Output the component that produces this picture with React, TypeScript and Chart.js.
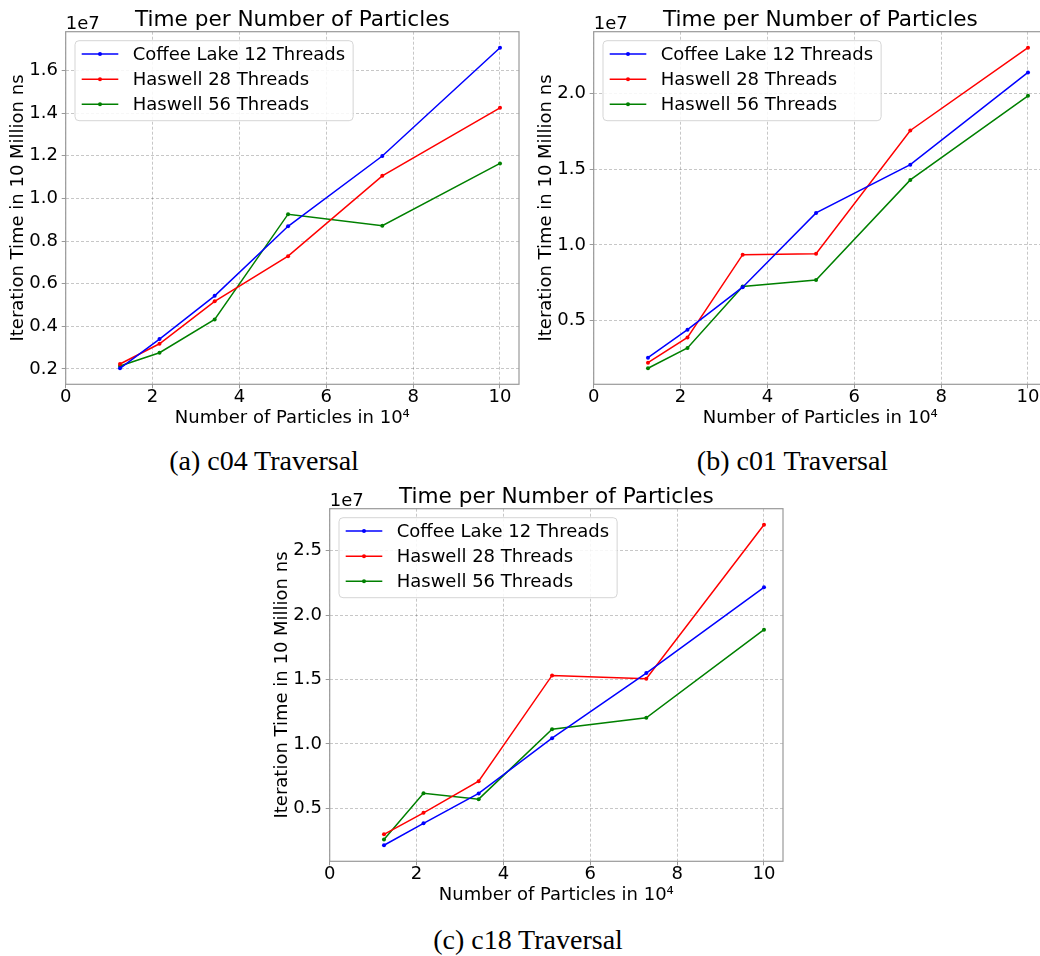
import React, { useEffect, useRef } from "react";
import { Chart, registerables } from "chart.js";

Chart.register(...registerables);

// ---------- data ----------
const PARTICLES = [1.25, 2.16, 3.43, 5.12, 7.29, 10.0]; // in 10^4
const SERIES_NAMES = ["Coffee Lake 12 Threads", "Haswell 28 Threads", "Haswell 56 Threads"];
const SERIES_COLORS = ["#0000ff", "#ff0000", "#008000"];

// iteration time in ns
const C04_COFFEE = [2030000, 3400000, 5430000, 8690000, 11990000, 17070000];
const C04_H28 = [2230000, 3180000, 5170000, 7290000, 11060000, 14250000];
const C04_H56 = [2140000, 2760000, 4320000, 9260000, 8720000, 11640000];

const C01_COFFEE = [2540000, 4390000, 7200000, 12110000, 15300000, 21400000];
const C01_H28 = [2210000, 3880000, 9350000, 9410000, 17560000, 23030000];
const C01_H56 = [1840000, 3180000, 7240000, 7680000, 14290000, 19850000];

const C18_COFFEE = [2140000, 3840000, 6160000, 10450000, 15500000, 22150000];
const C18_H28 = [2990000, 4660000, 7110000, 15320000, 15060000, 27010000];
const C18_H56 = [2580000, 6180000, 5720000, 11150000, 12030000, 18870000];

const Y_SCALE = 1e7; // axis unit ("1e7")
const X_TICK_STEP = 2;
const Y_TICK_STEP_A = 0.2; // in 1e7 ns
const Y_TICK_STEP_BC = 0.5; // in 1e7 ns

const TITLE = "Time per Number of Particles";
const X_LABEL = "Number of Particles in 10\u2074";
const Y_LABEL = "Iteration Time in 10 Million ns";
const OFFSET_LABEL = "1e7";
const CAPTIONS = ["(a) c04 Traversal", "(b) c01 Traversal", "(c) c18 Traversal"];

// ---------- layout ----------
const CANVAS_W = 540;
const CANVAS_H = 430;
const AREA_LEFT = 65.7;
const AREA_RIGHT = 519;
const AREA_TOP = 31.7;
const AREA_BOTTOM = 384.3;
const FONT = '"DejaVu Sans"';

function range(values: number[][]) {
  const all = values.flat();
  const mn = Math.min(...all);
  const mx = Math.max(...all);
  const m = (mx - mn) * 0.05;
  return { min: mn - m, max: mx + m };
}

const decorPlugin = {
  id: "decor",
  afterDraw(chart: any) {
    const ctx: CanvasRenderingContext2D = chart.ctx;
    const { left, top, right, bottom } = chart.chartArea;
    ctx.save();
    // frame
    ctx.strokeStyle = "#999999";
    ctx.lineWidth = 1.2;
    ctx.setLineDash([]);
    ctx.strokeRect(left, top, right - left, bottom - top);

    // legend
    ctx.font = `18px ${FONT}`;
    const textX = left + 67;
    const maxW = Math.max(...SERIES_NAMES.map((n) => ctx.measureText(n).width));
    const bx = left + 9.3;
    const by = top + 9;
    const bw = textX + maxW + 8 - bx;
    const bh = 80;
    ctx.beginPath();
    (ctx as any).roundRect(bx, by, bw, bh, 4);
    ctx.fillStyle = "rgba(255,255,255,0.85)";
    ctx.fill();
    ctx.strokeStyle = "#d5d5d5";
    ctx.lineWidth = 1;
    ctx.stroke();
    const rows = [22.3, 47.6, 72.6];
    chart.data.datasets.forEach((ds: any, i: number) => {
      const y = top + rows[i];
      ctx.strokeStyle = ds.borderColor;
      ctx.lineWidth = 1.5;
      ctx.beginPath();
      ctx.moveTo(left + 16, y);
      ctx.lineTo(left + 52.6, y);
      ctx.stroke();
      ctx.fillStyle = ds.borderColor;
      ctx.beginPath();
      ctx.arc(left + 34.3, y, 2, 0, Math.PI * 2);
      ctx.fill();
      ctx.fillStyle = "#000";
      ctx.textAlign = "left";
      ctx.textBaseline = "middle";
      ctx.fillText(ds.label, textX, y + 1);
    });

    // title
    ctx.fillStyle = "#000";
    ctx.font = `21.6px ${FONT}`;
    ctx.textAlign = "center";
    ctx.textBaseline = "alphabetic";
    ctx.fillText(TITLE, (left + right) / 2, top - 6);

    // offset text
    ctx.font = `18px ${FONT}`;
    ctx.textAlign = "left";
    ctx.fillText(OFFSET_LABEL, left, top - 3.2);
    ctx.restore();
  },
};

function SubChart(props: { series: number[][]; yStep: number; left: number; top: number }) {
  const ref = useRef<HTMLCanvasElement | null>(null);
  useEffect(() => {
    if (!ref.current) return;
    const scaled = props.series.map((vals) => vals.map((v) => v / Y_SCALE));
    const yr = range(scaled);
    const xmin = Math.min(...PARTICLES);
    const xmax = Math.max(...PARTICLES);
    const gridOpts = {
      color: "rgba(0,0,0,0.22)",
      lineWidth: 1,
      drawTicks: true,
      tickLength: 4,
      tickColor: "#999999",
      tickWidth: 1,
    };
    const chart = new Chart(ref.current, {
      type: "line",
      data: {
        datasets: scaled.map((vals, i) => ({
          label: SERIES_NAMES[i],
          data: PARTICLES.map((x, j) => ({ x, y: vals[j] })),
          borderColor: SERIES_COLORS[i],
          backgroundColor: SERIES_COLORS[i],
          pointBackgroundColor: SERIES_COLORS[i],
          pointBorderWidth: 0,
          pointRadius: 2,
          pointHoverRadius: 2,
          borderWidth: 1.5,
          tension: 0,
          fill: false,
        })),
      },
      options: {
        responsive: false,
        animation: false,
        events: [],
        layout: {
          padding: { left: 0, top: AREA_TOP, right: CANVAS_W - AREA_RIGHT, bottom: 0 },
        },
        plugins: {
          legend: { display: false },
          title: { display: false },
          tooltip: { enabled: false },
        },
        scales: {
          x: {
            type: "linear",
            min: 0,
            max: xmax + (xmax - xmin) * 0.05,
            afterFit: (s: any) => {
              s.height = CANVAS_H - AREA_BOTTOM;
            },
            ticks: {
              stepSize: X_TICK_STEP,
              includeBounds: false,
              color: "#000",
              padding: 0,
              font: { family: FONT, size: 18, lineHeight: 1 },
              maxRotation: 0,
            },
            grid: gridOpts,
            border: { display: false, dash: [3, 2] },
            title: {
              display: true,
              text: X_LABEL,
              color: "#000",
              font: { family: FONT, size: 18 },
              padding: { top: 0, bottom: 1.2 },
            },
          },
          y: {
            type: "linear",
            min: yr.min,
            max: yr.max,
            afterFit: (s: any) => {
              s.width = AREA_LEFT;
            },
            ticks: {
              stepSize: props.yStep,
              includeBounds: false,
              color: "#000",
              padding: 3.7,
              font: { family: FONT, size: 18, lineHeight: 1 },
              callback: (v: any) => Number(v).toFixed(1),
            },
            grid: gridOpts,
            border: { display: false, dash: [3, 2] },
            title: {
              display: true,
              text: Y_LABEL,
              color: "#000",
              font: { family: FONT, size: 18 },
              padding: { top: 7.2, bottom: 0 },
            },
          },
        },
      } as any,
      plugins: [decorPlugin],
    });
    return () => chart.destroy();
  }, []);
  return (
    <canvas
      ref={ref}
      width={CANVAS_W}
      height={CANVAS_H}
      style={{
        position: "absolute",
        left: props.left,
        top: props.top,
        width: CANVAS_W,
        height: CANVAS_H,
        display: "block",
      }}
    />
  );
}

function Caption(props: { text: string; cx: number; top: number }) {
  return (
    <div
      style={{
        position: "absolute",
        left: props.cx - 200,
        top: props.top,
        width: 400,
        textAlign: "center",
        fontFamily: '"Liberation Serif", serif',
        fontSize: 28,
        lineHeight: "28px",
        color: "#000",
        whiteSpace: "nowrap",
      }}
    >
      {props.text}
    </div>
  );
}

export default function App() {
  return (
    <div
      style={{
        position: "absolute",
        left: 0,
        top: 0,
        width: 1040,
        height: 956,
        overflow: "hidden",
        background: "#fff",
      }}
    >
      <SubChart series={[C04_COFFEE, C04_H28, C04_H56]} yStep={Y_TICK_STEP_A} left={0} top={0} />
      <SubChart series={[C01_COFFEE, C01_H28, C01_H56]} yStep={Y_TICK_STEP_BC} left={528} top={0} />
      <SubChart series={[C18_COFFEE, C18_H28, C18_H56]} yStep={Y_TICK_STEP_BC} left={264} top={477} />
      <Caption text={CAPTIONS[0]} cx={264} top={446.5} />
      <Caption text={CAPTIONS[1]} cx={792.5} top={446.5} />
      <Caption text={CAPTIONS[2]} cx={528} top={925.5} />
    </div>
  );
}
